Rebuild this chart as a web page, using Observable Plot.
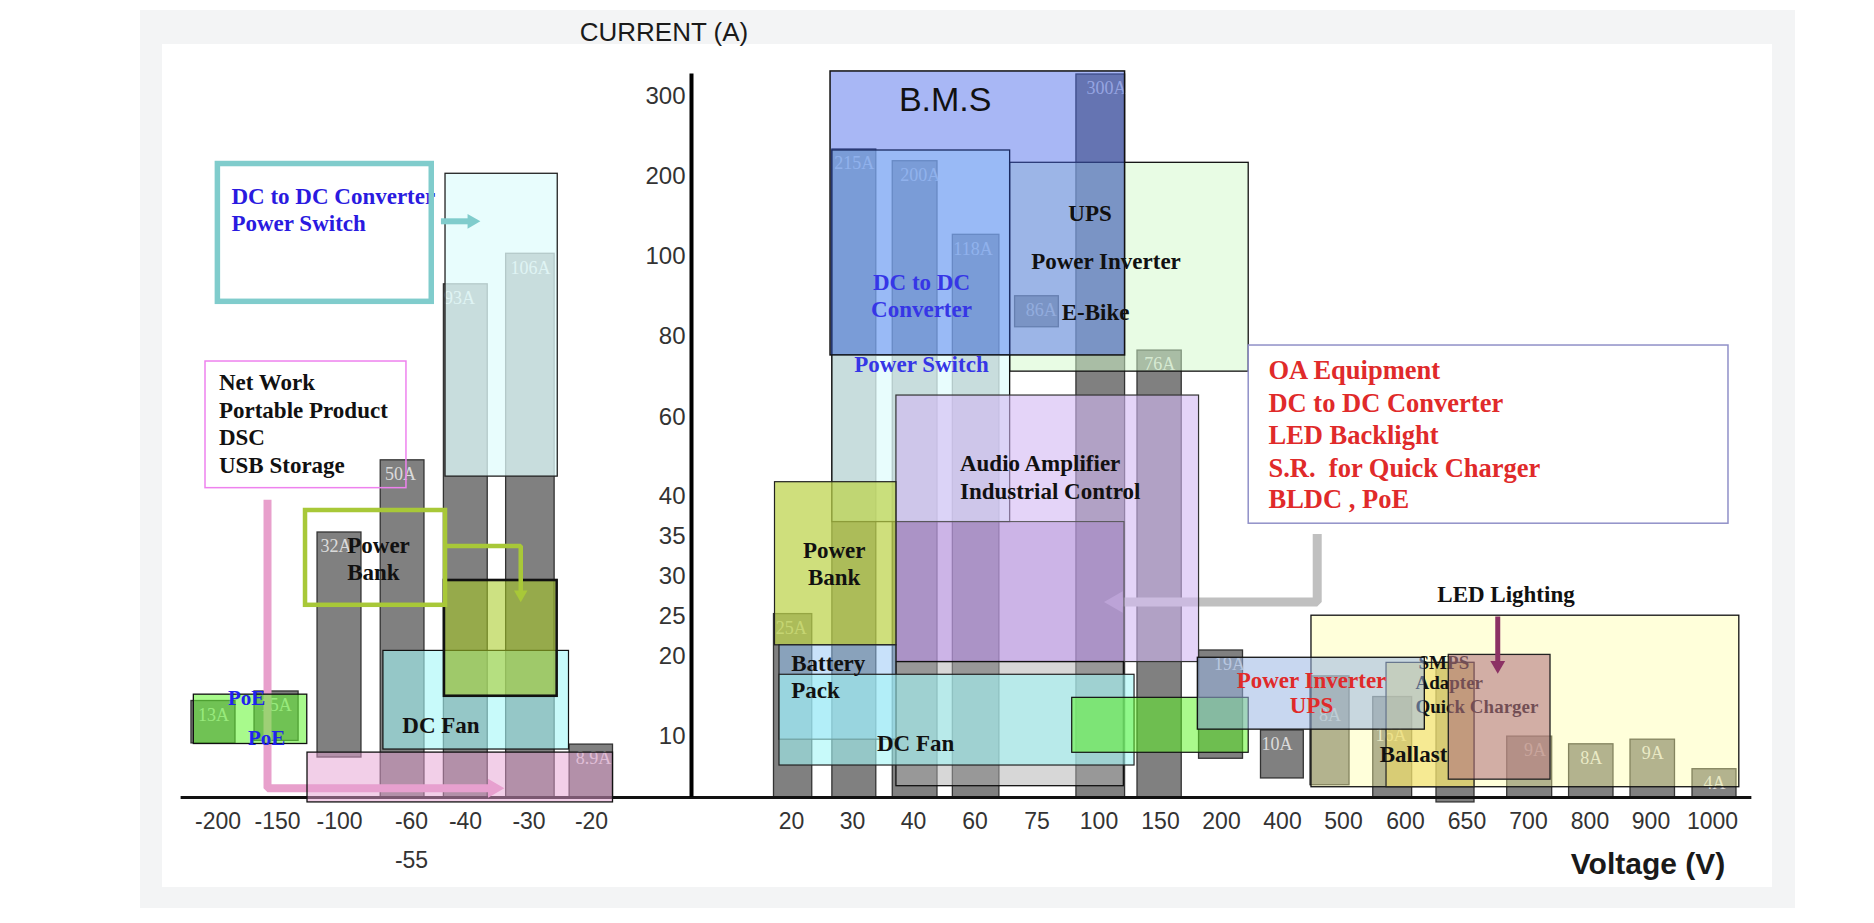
<!DOCTYPE html>
<html>
<head>
<meta charset="utf-8">
<script src="https://cdn.jsdelivr.net/npm/d3@7"></script>
<script src="https://cdn.jsdelivr.net/npm/@observablehq/plot@0.6"></script>
<style>
  html, body { margin: 0; padding: 0; background: #ffffff; width: 1874px; height: 923px; overflow: hidden; }
  #bg { position: absolute; left: 140px; top: 10px; width: 1655px; height: 898px; background: #f3f4f5; }
  #panel { position: absolute; left: 162px; top: 44px; width: 1610px; height: 843px; background: #ffffff; }
  #chart { position: absolute; left: 0; top: 0; }
  .title { position: absolute; transform: translate(-50%, -50%); white-space: nowrap; color: #1a1a1a; font-family: "Liberation Sans", Arial, sans-serif; }
  #ytitle { left: 664px; top: 32px; font-size: 26px; }
  #xtitle { left: 1648px; top: 864px; font-size: 30px; font-weight: bold; }
</style>
</head>
<body>
<div id="bg"></div>
<div id="panel"></div>
<div id="chart"></div>
<div class="title" id="ytitle">CURRENT (A)</div>
<div class="title" id="xtitle">Voltage (V)</div>
<script>
// ---------- data ----------
const voltageTicks = [-200, -150, -100, -60, -40, -30, -20, 20, 30, 40, 60, 75, 100, 150, 200, 400, 500, 600, 650, 700, 800, 900, 1000];
const currentTicks = [0, 10, 20, 25, 30, 35, 40, 60, 80, 100, 200, 300];

// current bars (voltage span, current span, label)
const bars = [
  {x1: -222.3, x2: -185.3, y1: 8.8, y2: 14.4, label: "13A"},
  {x1: -169.3, x2: -133, y1: 9.2, y2: 15.6, label: "15A"},
  {x1: -117.7, x2: -87.8, y1: 6.5, y2: 35.5, label: "32A"},
  {x1: -77.1, x2: -55.2, y1: 0, y2: 49.1, label: "50A"},
  {x1: -48, x2: -36.5, y1: 0, y2: 93, label: "93A"},
  {x1: -33.6, x2: -25.9, y1: 0, y2: 103.4, label: "106A"},
  {x1: -23.5, x2: -15.7, y1: 0, y2: 8.6, label: "8.9A"},
  {x1: 16.5, x2: 23.4, y1: 0, y2: 25.3, label: "25A"},
  {x1: 26.7, x2: 33.9, y1: 0, y2: 233.8, label: "215A"},
  {x1: 36.6, x2: 47.8, y1: 0, y2: 219.1, label: "200A"},
  {x1: 52.8, x2: 65.9, y1: 0, y2: 127.1, label: "118A"},
  {x1: 69.7, x2: 83.8, y1: 82.2, y2: 90, label: "86A"},
  {x1: 90.9, x2: 121.2, y1: 0, y2: 327.5, label: "300A"},
  {x1: 131.3, x2: 167.4, y1: 0, y2: 76.4, label: "76A"},
  {x1: 181.6, x2: 270.5, y1: 6.3, y2: 20.75, label: "19A"},
  {x1: 329.5, x2: 434.9, y1: 3.1, y2: 10.7, label: "10A"},
  {x1: 445.9, x2: 509.7, y1: 2, y2: 17.5, label: "8A", labelAt: 12.6},
  {x1: 548, x2: 605.4, y1: 0, y2: 14.9, label: "16A", labelAt: 10.1},
  {x1: 625.2, x2: 656.1, y1: -0.8, y2: 19.2, label: null},
  {x1: 682.7, x2: 738.5, y1: 0, y2: 9.9, label: "9A"},
  {x1: 766, x2: 838.5, y1: 0, y2: 8.65, label: "8A"},
  {x1: 866.4, x2: 939, y1: 0, y2: 9.4, label: "9A"},
  {x1: 967.5, x2: 1039, y1: 0, y2: 4.6, label: "4A"}
];

// application regions (voltage span, current span)
const regions = [
  {id: "ups", x1: 68.5, x2: 289.2, y1: 71.2, y2: 217.1},
  {id: "bms", x1: 26.4, x2: 121.2, y1: 75.2, y2: 331.3},
  {id: "dcdc", x1: 26.7, x2: 68.5, y1: 75.2, y2: 232.5},
  {id: "pswitch", x1: 26.7, x2: 68.5, y1: 36.8, y2: 75.2},
  {id: "audio", x1: 37.2, x2: 181.6, y1: 19.3, y2: 65.3},
  {id: "industrial", x1: 37.2, x2: 120.7, y1: 19.3, y2: 36.8},
  {id: "grayBox", x1: 37.2, x2: 120.2, y1: 1.84, y2: 19.3},
  {id: "pbankR", x1: 16.7, x2: 37.2, y1: 21.4, y2: 43.6},
  {id: "battery", x1: 17.6, x2: 37.2, y1: 9.4, y2: 21.4},
  {id: "fanR", x1: 17.6, x2: 128.9, y1: 5.2, y2: 17.7},
  {id: "greenR", x1: 89.2, x2: 289.2, y1: 7.27, y2: 14.8},
  {id: "led", x1: 447.5, x2: 1043.6, y1: 1.67, y2: 25.1},
  {id: "ballast", x1: 569.4, x2: 656.1, y1: 1.67, y2: 19.2},
  {id: "inverter", x1: 180.6, x2: 615.7, y1: 10.8, y2: 19.84},
  {id: "charger", x1: 635.2, x2: 735.8, y1: 2.9, y2: 20.2},
  {id: "poe", x1: -220.3, x2: -126, y1: 8.7, y2: 15.2},
  {id: "pink", x1: -125.8, x2: -15.7, y1: -0.8, y2: 7.3},
  {id: "cyanL", x1: -47.4, x2: -25.4, y1: 45, y2: 203.4},
  {id: "fanL", x1: -75.6, x2: -23.6, y1: 7.8, y2: 20.7},
  {id: "oliveL", x1: -47.8, x2: -25.5, y1: 15, y2: 29.5},
  {id: "pbankL", x1: -127.4, x2: -47.4, y1: 26.4, y2: 38.25},
  {id: "tealBox", x1: -200.1, x2: -52.5, y1: 88.6, y2: 215.6},
  {id: "netBox", x1: -210.5, x2: -62.8, y1: 42.1, y2: 73.7},
  {id: "oaBox", x1: 289.2, x2: 1026, y1: 36.6, y2: 77.65}
];

// callout arrows (polyline points in voltage / current)
const arrows = [
  {id: "teal", pts: [[-49.1, 144], [-39, 144]]},
  {id: "greenL", pts: [[-47.4, 33.8], [-31.3, 33.8], [-31.3, 27.75]]},
  {id: "pink", pts: [[-158.4, 39.6], [-158.4, 1.5], [-35.6, 1.5]]},
  {id: "gray", pts: [[456.9, 35.3], [456.9, 26.8], [114.2, 26.8]]},
  {id: "led", pts: [[675, 25], [675, 18.9]]}
];

// annotation texts
const notes = [
  {t: "DC to DC Converter", x: -188.7, y: 175, g: "blueStart"},
  {t: "Power Switch", x: -188.7, y: 140.9, g: "blueStart"},
  {t: "Net Work", x: -199.2, y: 68.5, g: "blackStart"},
  {t: "Portable Product", x: -199.2, y: 61.6, g: "blackStart"},
  {t: "DSC", x: -199.2, y: 54.8, g: "blackStart"},
  {t: "USB Storage", x: -199.2, y: 47.8, g: "blackStart"},
  {t: "Power", x: -95.7, y: 33.9, g: "blackStart"},
  {t: "Bank", x: -95.7, y: 30.5, g: "blackStart"},
  {t: "DC Fan", x: -49.1, y: 11.3, g: "blackMid"},
  {t: "PoE", x: -176, y: 14.7, g: "poe"},
  {t: "PoE", x: -159.2, y: 9.6, g: "poe"},
  {t: "B.M.S", x: 50.3, y: 295, g: "bms"},
  {t: "UPS", x: 96.4, y: 153.4, g: "blackMid"},
  {t: "Power Inverter", x: 105.7, y: 98.6, g: "blackMid"},
  {t: "E-Bike", x: 98.6, y: 85.8, g: "blackMid"},
  {t: "DC to DC", x: 42.6, y: 93.5, g: "blueMid"},
  {t: "Converter", x: 42.6, y: 86.6, g: "blueMid"},
  {t: "Power Switch", x: 42.6, y: 72.9, g: "blueMid"},
  {t: "Audio Amplifier", x: 55.1, y: 48.2, g: "blackStart"},
  {t: "Industrial Control", x: 55.1, y: 41.3, g: "blackStart"},
  {t: "Power", x: 27, y: 33.25, g: "blackMid"},
  {t: "Bank", x: 27, y: 29.9, g: "blackMid"},
  {t: "Battery", x: 19.95, y: 19.1, g: "blackStart"},
  {t: "Pack", x: 19.95, y: 15.7, g: "blackStart"},
  {t: "DC Fan", x: 40.7, y: 8.8, g: "blackMid"},
  {t: "Power Inverter", x: 447.5, y: 17, g: "redMid"},
  {t: "UPS", x: 447.5, y: 13.8, g: "redMid"},
  {t: "LED Lighting", x: 681.7, y: 27.7, g: "blackMid"},
  {t: "Ballast", x: 606.5, y: 7, g: "blackMid"},
  {t: "OA Equipment", x: 354, y: 71.4, g: "oa"},
  {t: "DC to DC Converter", x: 354, y: 63.4, g: "oa"},
  {t: "LED Backlight", x: 354, y: 55.4, g: "oa"},
  {t: "S.R.\u00a0 for Quick Charger", x: 354, y: 47.1, g: "oa"},
  {t: "BLDC , PoE", x: 354, y: 39.6, g: "oa"},
  {t: "SMPS", x: 610.6, y: 19.2, g: "smps"},
  {t: "Adapter", x: 608.1, y: 16.7, g: "smps"},
  {t: "Quick Charger", x: 608.1, y: 13.6, g: "smps"}
];
const extraTick = [{label: "-55", x: -60}];

// ---------- styles ----------
const SERIF = "'Liberation Serif', 'Times New Roman', serif";
const SANS = "'Liberation Sans', Arial, sans-serif";
const boxStyle = {
  ups: {fill: "#d1f9c9", fillOpacity: 0.5, stroke: "#111", strokeWidth: 1.3},
  bms: {fill: "#4667ea", fillOpacity: 0.47, stroke: "#111", strokeWidth: 1.5},
  dcdc: {fill: "#8cbef5", fillOpacity: 0.55, stroke: "#1a2a60", strokeWidth: 1.3},
  pswitch: {fill: "#e0fcfc", fillOpacity: 0.75, stroke: "#111", strokeWidth: 1.3},
  audio: {fill: "#d2b7f3", fillOpacity: 0.6, stroke: "#333", strokeWidth: 1.2},
  industrial: {fill: "#a078c8", fillOpacity: 0.35, stroke: "#555", strokeWidth: 1},
  grayBox: {fill: "#b0b0b0", fillOpacity: 0.5, stroke: "#111", strokeWidth: 1.3},
  pbankR: {fill: "#bcd34a", fillOpacity: 0.72, stroke: "#222", strokeWidth: 1.2},
  battery: {fill: "#91c3f5", fillOpacity: 0.5, stroke: "#222", strokeWidth: 1.2},
  fanR: {fill: "#a3f7f7", fillOpacity: 0.6, stroke: "#222", strokeWidth: 1.2},
  greenR: {fill: "#5ef526", fillOpacity: 0.53, stroke: "#111", strokeWidth: 1.2},
  led: {fill: "#ffffa3", fillOpacity: 0.4, stroke: "#111", strokeWidth: 1.3},
  ballast: {fill: "#f0dc64", fillOpacity: 0.6, stroke: "#222", strokeWidth: 1.2},
  inverter: {fill: "#9bb6e4", fillOpacity: 0.55, stroke: "#111", strokeWidth: 1.3},
  charger: {fill: "#b47882", fillOpacity: 0.6, stroke: "#222", strokeWidth: 1.3},
  poe: {fill: "#64f632", fillOpacity: 0.56, stroke: "#111", strokeWidth: 1.3},
  pink: {fill: "#e6a0d2", fillOpacity: 0.5, stroke: "#111", strokeWidth: 1.3},
  cyanL: {fill: "#e0fcfc", fillOpacity: 0.75, stroke: "#222", strokeWidth: 1.3},
  fanL: {fill: "#a3f7f7", fillOpacity: 0.6, stroke: "#111", strokeWidth: 1.2},
  oliveL: {fill: "#a7ca23", fillOpacity: 0.57, stroke: "#111", strokeWidth: 2.6},
  pbankL: {fill: "none", stroke: "#a8c838", strokeWidth: 4.5},
  tealBox: {fill: "none", stroke: "#80cccc", strokeWidth: 5.5},
  netBox: {fill: "none", stroke: "#ee82ee", strokeWidth: 1.5},
  oaBox: {fill: "none", stroke: "#9090c8", strokeWidth: 1.5}
};
const arrowStyle = {
  teal: {color: "#80cccc", w: 6, r: 5.5},
  greenL: {color: "#a8c838", w: 4.5, r: 5},
  pink: {color: "#e8a0cc", w: 8, r: 7},
  gray: {color: "#c0c0c0", w: 9, r: 8},
  led: {color: "#8c3264", w: 5, r: 5.5}
};
const textStyle = {
  blueStart: {fill: "#2a1ae0", fontSize: 23, fontFamily: SERIF, fontWeight: "bold", textAnchor: "start"},
  blueMid: {fill: "#3636e6", fontSize: 23, fontFamily: SERIF, fontWeight: "bold", textAnchor: "middle"},
  blackStart: {fill: "#111", fontSize: 23, fontFamily: SERIF, fontWeight: "bold", textAnchor: "start"},
  blackMid: {fill: "#111", fontSize: 23, fontFamily: SERIF, fontWeight: "bold", textAnchor: "middle"},
  redMid: {fill: "#e02a2a", fontSize: 23, fontFamily: SERIF, fontWeight: "bold", textAnchor: "middle"},
  oa: {fill: "#e02a2a", fontSize: 26.5, fontFamily: SERIF, fontWeight: "bold", textAnchor: "start"},
  poe: {fill: "#2222ee", fontSize: 21, fontFamily: SERIF, fontWeight: "bold", textAnchor: "middle"},
  smps: {fill: "#111", fontSize: 19, fontFamily: SERIF, fontWeight: "bold", textAnchor: "start"},
  bms: {fill: "#111", fontSize: 34, fontFamily: SANS, fontWeight: "normal", textAnchor: "middle"}
};

// ---------- mark helpers ----------
const box = id => Plot.rect(regions.filter(d => d.id === id), {x1: "x1", x2: "x2", y1: "y1", y2: "y2", ...boxStyle[id]});
const txt = g => Plot.text(notes.filter(d => d.g === g), {x: "x", y: "y", text: "t", lineAnchor: "middle", ...textStyle[g]});
const arrow = id => {
  const a = arrows.find(d => d.id === id), s = arrowStyle[id], p = a.pts;
  const [xa, ya] = p[p.length - 2], [xb, yb] = p[p.length - 1];
  const rot = xb > xa ? 90 : xb < xa ? -90 : yb < ya ? 180 : 0;
  return [
    Plot.line(p, {x: d => d[0], y: d => d[1], stroke: s.color, strokeWidth: s.w, strokeLinejoin: "miter", strokeLinecap: "butt"}),
    Plot.dot([p[p.length - 1]], {x: d => d[0], y: d => d[1], symbol: "triangle", r: s.r, fill: s.color, stroke: "none", rotate: rot})
  ];
};
const barLabelStyle = {fill: "#f4f4f4", fillOpacity: 0.8, fontSize: 18, fontFamily: SERIF, textAnchor: "middle", lineAnchor: "middle"};

const chart = Plot.plot({
  width: 1874,
  height: 923,
  marginTop: 60,
  marginBottom: 126,
  marginLeft: 170,
  marginRight: 110,
  style: {background: "transparent", fontFamily: SANS, fontSize: "23px", overflow: "visible"},
  x: {type: "linear", domain: voltageTicks, range: [217.5, 277, 339, 411, 465, 528.5, 591, 791, 852, 913, 974.5, 1036.5, 1098.5, 1160, 1221, 1282, 1343, 1405, 1466.5, 1528, 1589.5, 1650.5, 1712], axis: null},
  y: {type: "linear", domain: currentTicks, range: [797, 735.5, 656, 616, 576, 536, 496, 416.5, 335.5, 256, 176, 96], axis: null},
  marks: [
    // current bars
    Plot.rect(bars, {x1: "x1", x2: "x2", y1: "y1", y2: "y2", fill: "#808080", stroke: "#333", strokeWidth: 1.3}),
    Plot.text(bars.filter(d => d.label && d.labelAt == null), {x: d => (d.x1 + d.x2) / 2, y: "y2", text: "label", dy: 14, ...barLabelStyle}),
    Plot.text(bars.filter(d => d.label && d.labelAt != null), {x: d => (d.x1 + d.x2) / 2, y: "labelAt", text: "label", ...barLabelStyle}),
    // axes lines
    Plot.ruleY([0], {x1: -231, x2: 1064, stroke: "#111", strokeWidth: 3}),
    Plot.ruleX([0], {y1: 0, y2: 328, stroke: "#000", strokeWidth: 4}),
    // arrows below boxes
    ...arrow("pink"),
    ...arrow("gray"),
    // right-side application regions
    box("ups"), box("bms"), box("dcdc"), box("pswitch"), box("audio"), box("industrial"),
    box("grayBox"), box("pbankR"), box("battery"), box("fanR"), box("greenR"),
    box("led"), box("ballast"), txt("smps"), box("inverter"), box("charger"),
    ...arrow("led"),
    // left-side regions
    box("poe"), box("pink"), box("cyanL"), box("fanL"), box("oliveL"), box("pbankL"),
    ...arrow("greenL"),
    ...arrow("teal"),
    txt("blueStart"),
    box("tealBox"), box("netBox"), box("oaBox"),
    // texts
    txt("blackStart"), txt("blackMid"), txt("blueMid"), txt("redMid"), txt("oa"), txt("poe"), txt("bms"),
    // axis labels
    Plot.axisX(voltageTicks, {anchor: "bottom", tickSize: 0, tickPadding: 15, tickFormat: d => String(d), label: null, fill: "#333", fontSize: 23, fontFamily: SANS}),
    Plot.text(extraTick, {x: "x", y: () => 0, text: "label", dy: 63, fill: "#333", fontSize: 23, fontFamily: SANS}),
    Plot.text(currentTicks.filter(d => d > 0), {x: () => 0, y: d => d, text: d => String(d), dx: -6, textAnchor: "end", fill: "#333", fontSize: 24, fontFamily: SANS})
  ]
});
document.getElementById("chart").appendChild(chart);
</script>
</body>
</html>
